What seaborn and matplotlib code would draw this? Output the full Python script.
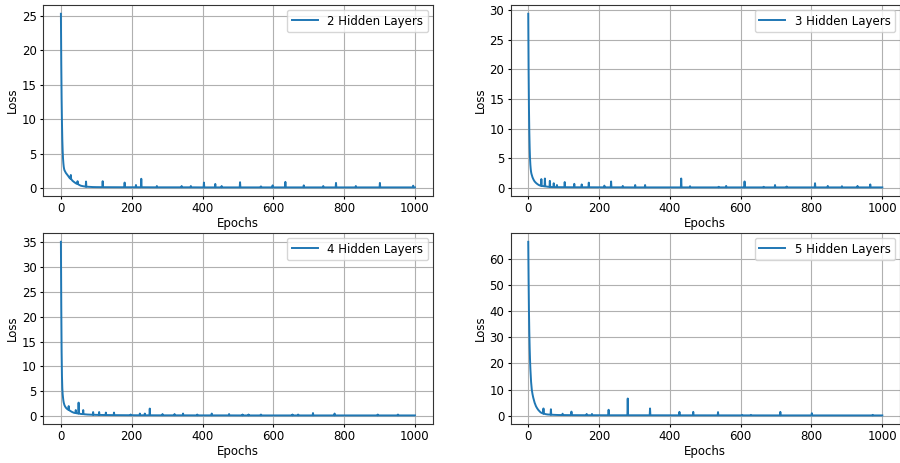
import pandas as pd
import matplotlib
matplotlib.use("Agg")
import matplotlib.pyplot as plt
import seaborn as sns

# Dados (época, loss)
epochs_2 = [0, 1, 2, 3, 4, 5, 6, 7, 8, 9, 10, 12, 14, 17, 20, 24, 27, 28, 29, 33, 38, 42, 46, 47, 48,
            52, 56, 60, 65, 70, 71, 72, 80, 90, 100, 117, 118, 119, 179, 180, 181, 211, 212, 213,
            226, 227, 228, 270, 271, 272, 340, 341, 342, 366, 367, 368, 403, 404, 405, 435, 436, 437,
            453, 454, 455, 505, 506, 507, 564, 565, 566, 597, 598, 599, 633, 634, 635, 685, 686, 687,
            740, 741, 742, 776, 777, 778, 832, 833, 834, 900, 901, 902, 994, 995, 996, 1000]
loss_2 = [25.3, 18.0, 13.0, 9.5, 7.0, 5.4, 4.3, 3.6, 3.1, 2.8, 2.6, 2.4, 2.2, 2.0, 1.8, 1.5, 1.35, 1.9, 1.3,
          1.05, 0.85, 0.7, 0.6, 1.0, 0.58, 0.45, 0.35, 0.3, 0.25, 0.2, 0.95, 0.2, 0.18, 0.15, 0.14,
          0.13, 1.0, 0.13, 0.12, 0.8, 0.12, 0.12, 0.45, 0.12, 0.12, 1.35, 0.12, 0.11, 0.3, 0.11,
          0.11, 0.3, 0.11, 0.11, 0.3, 0.11, 0.1, 0.8, 0.1, 0.1, 0.6, 0.1, 0.1, 0.3, 0.1, 0.1, 0.85, 0.1,
          0.1, 0.25, 0.1, 0.1, 0.4, 0.1, 0.1, 0.9, 0.1, 0.1, 0.4, 0.1, 0.1, 0.3, 0.1, 0.1, 0.75, 0.1,
          0.1, 0.3, 0.1, 0.1, 0.75, 0.1, 0.1, 0.35, 0.1, 0.1]

epochs_3 = [0, 1, 2, 3, 4, 5, 6, 7, 8, 9, 10, 12, 15, 18, 22, 26, 30, 34, 36, 37, 38, 46, 47, 48, 52, 56,
            60, 61, 62, 71, 72, 73, 80, 81, 82, 102, 103, 104, 129, 130, 131, 150, 151, 152, 170, 171,
            172, 214, 215, 216, 233, 234, 235, 266, 267, 268, 301, 302, 303, 329, 330, 331, 431, 432,
            433, 456, 457, 458, 537, 538, 539, 558, 559, 560, 610, 611, 612, 664, 665, 666, 696, 697,
            698, 729, 730, 731, 809, 810, 811, 845, 846, 847, 885, 886, 887, 929, 930, 931, 965, 966,
            967, 1000]
loss_3 = [29.4, 20.0, 13.5, 9.5, 6.8, 5.0, 3.9, 3.2, 2.7, 2.4, 2.2, 1.8, 1.4, 1.1, 0.85, 0.65, 0.5, 0.4,
          0.37, 1.5, 0.35, 0.28, 1.6, 0.27, 0.24, 0.2, 0.18, 1.2, 0.17, 0.15, 0.8, 0.15, 0.14, 0.5,
          0.14, 0.13, 1.0, 0.13, 0.12, 0.7, 0.12, 0.12, 0.6, 0.12, 0.12, 0.9, 0.12, 0.11, 0.4, 0.11,
          0.11, 1.1, 0.11, 0.11, 0.35, 0.11, 0.1, 0.5, 0.1, 0.1, 0.5, 0.1, 0.1, 1.6, 0.1, 0.1, 0.3,
          0.1, 0.1, 0.2, 0.1, 0.1, 0.35, 0.1, 0.1, 1.1, 0.1, 0.1, 0.2, 0.1, 0.1, 0.5, 0.1, 0.1, 0.25,
          0.1, 0.1, 0.8, 0.1, 0.1, 0.35, 0.1, 0.1, 0.3, 0.1, 0.1, 0.35, 0.1, 0.1, 0.6, 0.1, 0.1]

epochs_4 = [0, 1, 2, 3, 4, 5, 6, 7, 8, 10, 12, 15, 18, 21, 22, 23, 27, 32, 37, 41, 42, 43, 49, 50, 51,
            56, 62, 63, 64, 75, 90, 91, 92, 107, 108, 109, 126, 127, 128, 149, 150, 151, 196, 197,
            198, 222, 223, 224, 236, 237, 238, 250, 251, 252, 286, 287, 288, 320, 321, 322, 344, 345,
            346, 384, 385, 386, 425, 426, 427, 474, 475, 476, 512, 513, 514, 529, 530, 531, 564, 565,
            566, 653, 654, 655, 669, 670, 671, 711, 712, 713, 772, 773, 774, 894, 895, 896, 951, 952,
            953, 1000]
loss_4 = [35.1, 22.0, 13.0, 8.0, 5.6, 4.4, 3.7, 3.1, 2.7, 2.2, 1.9, 1.6, 1.4, 1.25, 2.0, 1.2, 1.0, 0.8,
          0.65, 0.6, 1.2, 0.58, 0.5, 2.7, 0.5, 0.42, 0.38, 1.2, 0.37, 0.3, 0.25, 0.8, 0.25, 0.22, 0.8,
          0.22, 0.2, 0.7, 0.2, 0.18, 0.7, 0.18, 0.16, 0.3, 0.16, 0.15, 0.5, 0.15, 0.15, 0.5, 0.15, 0.15,
          1.5, 0.15, 0.14, 0.4, 0.14, 0.14, 0.4, 0.14, 0.14, 0.5, 0.14, 0.13, 0.3, 0.13, 0.13, 0.5,
          0.13, 0.13, 0.4, 0.13, 0.12, 0.3, 0.12, 0.12, 0.3, 0.12, 0.12, 0.3, 0.12, 0.12, 0.3, 0.12,
          0.12, 0.3, 0.12, 0.12, 0.6, 0.12, 0.12, 0.5, 0.12, 0.12, 0.3, 0.12, 0.12, 0.3, 0.12, 0.12]

epochs_5 = [0, 1, 2, 3, 4, 5, 6, 7, 8, 10, 12, 14, 16, 18, 22, 25, 28, 32, 35, 40, 42, 43, 44, 50, 55,
            63, 64, 65, 75, 85, 96, 97, 98, 121, 122, 123, 164, 165, 166, 179, 180, 181, 226, 227,
            228, 280, 281, 282, 343, 344, 345, 426, 427, 428, 465, 466, 467, 535, 536, 537, 603, 604,
            605, 628, 629, 630, 711, 712, 713, 800, 801, 802, 972, 973, 974, 1000]
loss_5 = [66.5, 52.0, 40.0, 32.0, 26.0, 21.5, 18.0, 15.5, 13.0, 10.0, 8.3, 7.0, 6.0, 5.0, 3.6, 2.9,
          2.3, 1.7, 1.3, 0.95, 0.85, 2.8, 0.8, 0.6, 0.5, 0.42, 2.5, 0.41, 0.35, 0.3, 0.28, 0.8, 0.28,
          0.25, 1.6, 0.25, 0.22, 0.7, 0.22, 0.22, 0.7, 0.22, 0.2, 2.3, 0.2, 0.2, 6.6, 0.2, 0.2, 2.8,
          0.2, 0.18, 1.5, 0.18, 0.18, 1.5, 0.18, 0.17, 1.4, 0.17, 0.16, 0.35, 0.16, 0.16, 0.35, 0.16,
          0.15, 1.5, 0.15, 0.15, 1.0, 0.15, 0.14, 0.35, 0.14, 0.14]

series = [
    (epochs_2, loss_2, '2 Hidden Layers'),
    (epochs_3, loss_3, '3 Hidden Layers'),
    (epochs_4, loss_4, '4 Hidden Layers'),
    (epochs_5, loss_5, '5 Hidden Layers'),
]

plt.rcParams['font.size'] = 8.5

fig, axes = plt.subplots(2, 2, figsize=(9, 4.63), dpi=100)
plt.subplots_adjust(left=0.048, right=1.0, bottom=0.084, top=0.989, wspace=0.2, hspace=0.194)

for ax, (ep, loss, nome) in zip(axes.flat, series):
    df = pd.DataFrame({'Epochs': ep, 'Loss': loss})
    sns.lineplot(data=df, x='Epochs', y='Loss', ax=ax, color='#1f77b4', linewidth=1.4,
                 estimator=None, label=nome)
    ax.set_xticks([0, 200, 400, 600, 800, 1000])
    ax.tick_params(length=2.5, pad=2)
    ax.set_xlabel('Epochs', labelpad=1)
    ax.set_ylabel('Loss', labelpad=2)
    ax.grid(True, color='#b0b0b0', linewidth=0.8)
    ax.set_axisbelow(True)
    for s in ax.spines.values():
        s.set_color('#333333')
    ax.legend(loc='upper right', fontsize=8.5, handlelength=2.2, borderaxespad=0.4)

plt.savefig('out.png', dpi=100)
